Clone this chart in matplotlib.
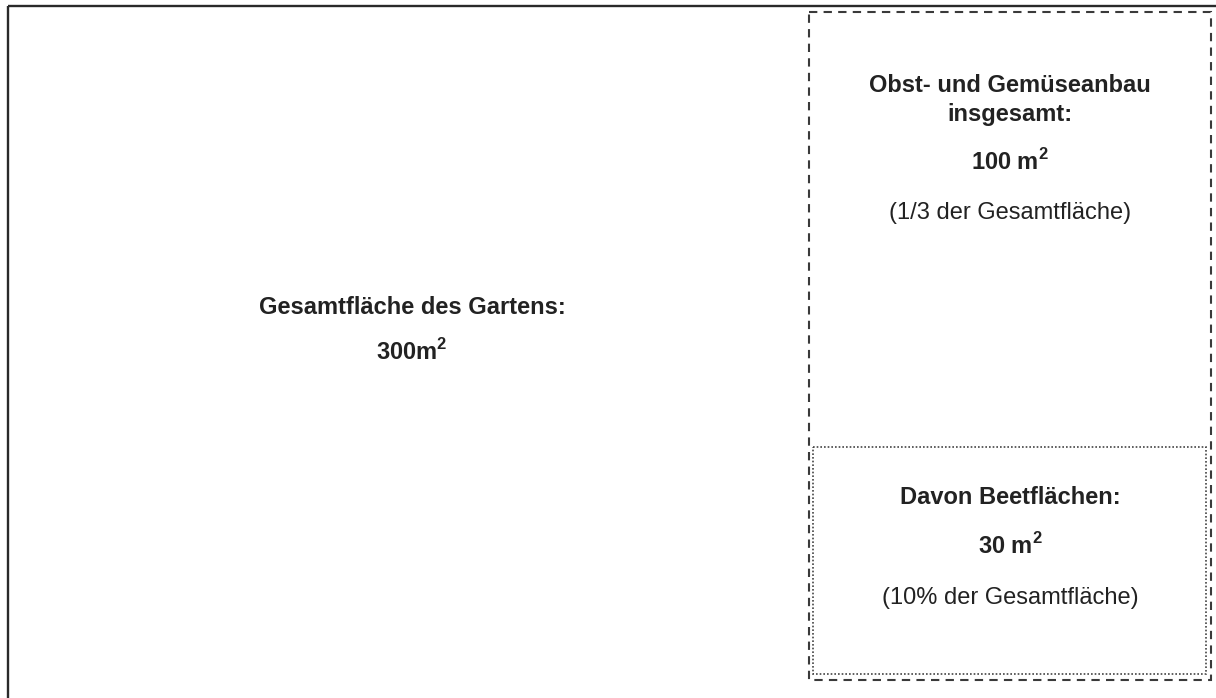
import matplotlib
matplotlib.use("Agg")
import matplotlib.pyplot as plt
from matplotlib.patches import Rectangle

plt.rcParams['font.family'] = ['Liberation Sans', 'DejaVu Sans']
plt.rcParams['mathtext.fontset'] = 'custom'
plt.rcParams['mathtext.rm'] = 'Liberation Sans'
plt.rcParams['mathtext.bf'] = 'Liberation Sans:bold'

# areas in m²
area_names = ['Gesamtfläche des Gartens:', 'Obst- und Gemüseanbau\ninsgesamt:', 'Davon Beetflächen:']
area_values = [300, 100, 30]
area_units = ['m', ' m', ' m']
area_shares = [None, '(1/3 der Gesamtfläche)', '(10% der Gesamtfläche)']

fig = plt.figure(figsize=(12.16, 6.98), dpi=100)
ax = fig.add_axes([0, 0, 1, 1])
ax.set_xlim(0, 1216)
ax.set_ylim(698, 0)
ax.axis('off')

# outer garden (runs off the picture right and bottom)
ax.add_patch(Rectangle((8, 6), 1300, 800, fill=False, edgecolor='#2a2a2a', lw=1.7))
# fruit & vegetables
ax.add_patch(Rectangle((809, 12), 402, 668, fill=False, edgecolor='#3a3a3a', lw=1.5,
                       linestyle=(0, (4, 3))))
# beds
ax.add_patch(Rectangle((813, 447), 393, 227, fill=False, edgecolor='#444444', lw=1.2,
                       linestyle=(0, (1, 1.2))))

fs = 17
bold = dict(ha='center', va='center', fontsize=fs, fontweight='bold', color='#222222')
norm = dict(ha='center', va='center', fontsize=fs, color='#222222')


def area_label(i):
    return f"{area_values[i]}{area_units[i]}" + r"$^{\mathbf{2}}$"


# total
ax.text(412, 308, area_names[0], **bold)
ax.text(412, 352, area_label(0), **bold)

# fruit & veg
ax.text(1010, 100, area_names[1], linespacing=1.3, **bold)
ax.text(1010, 162, area_label(1), **bold)
ax.text(1010, 213, area_shares[1], **norm)

# beds
ax.text(1010, 497, area_names[2], **bold)
ax.text(1010, 546, area_label(2), **bold)
ax.text(1010, 598, area_shares[2], **norm)

fig.savefig('out.png', dpi=100)
